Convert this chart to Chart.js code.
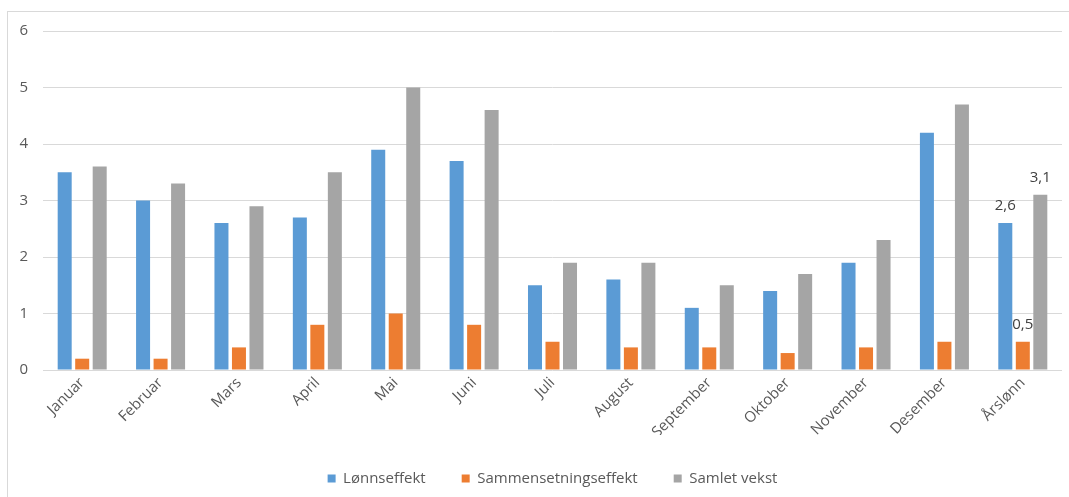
<!DOCTYPE html>
<html>
<head>
<meta charset="utf-8">
<script src="https://cdn.jsdelivr.net/npm/chart.js@4"></script>
<style>
  html, body { margin: 0; padding: 0; background: #fff; overflow: hidden; }
  #frame {
    position: absolute; left: 7px; top: 11px;
    width: 1100px; height: 600px;
    border: 1px solid #d9d9d9;
  }
  #wrap { position: absolute; left: 8px; top: 7px; width: 1095px; height: 490px; }
</style>
</head>
<body>
<div id="frame"></div>
<div id="wrap"><canvas id="chart"></canvas></div>
<script>
const months = ["Januar", "Februar", "Mars", "April", "Mai", "Juni", "Juli",
  "August", "September", "Oktober", "November", "Desember", "Årslønn"];
const lonnseffekt = [3.5, 3.0, 2.6, 2.7, 3.9, 3.7, 1.5, 1.6, 1.1, 1.4, 1.9, 4.2, 2.6];
const sammensetning = [0.2, 0.2, 0.4, 0.8, 1.0, 0.8, 0.5, 0.4, 0.4, 0.3, 0.4, 0.5, 0.5];
const samletVekst = [3.6, 3.3, 2.9, 3.5, 5.0, 4.6, 1.9, 1.9, 1.5, 1.7, 2.3, 4.7, 3.1];
const yTicks = [0, 1, 2, 3, 4, 5, 6];

const textColor = "#595959";
const font = "'Open Sans', 'Noto Sans', sans-serif";

// value labels only on the yearly group (last category)
const yearLabels = {
  id: "yearLabels",
  afterDatasetsDraw(chart) {
    const ctx = chart.ctx;
    const last = months.length - 1;
    ctx.save();
    ctx.font = "15px " + font;
    ctx.fillStyle = "#404040";
    ctx.textAlign = "center";
    ctx.textBaseline = "bottom";
    chart.data.datasets.forEach((ds, i) => {
      const bar = chart.getDatasetMeta(i).data[last];
      const txt = ds.data[last].toFixed(1).replace(".", ",");
      ctx.fillText(txt, bar.x, bar.y - 10);
    });
    ctx.restore();
  }
};

new Chart(document.getElementById("chart"), {
  type: "bar",
  data: {
    labels: months,
    datasets: [
      { label: "Lønnseffekt", data: lonnseffekt, backgroundColor: "#5b9bd5" },
      { label: "Sammensetningseffekt", data: sammensetning, backgroundColor: "#ed7d31" },
      { label: "Samlet vekst", data: samletVekst, backgroundColor: "#a5a5a5" }
    ]
  },
  options: {
    responsive: true,
    maintainAspectRatio: false,
    animation: false,
    categoryPercentage: 0.67,
    barPercentage: 0.8,
    layout: { padding: { top: 10, right: 41, bottom: 1, left: 0 } },
    plugins: {
      tooltip: { enabled: false },
      legend: {
        position: "bottom",
        fullSize: false,
        labels: {
          boxWidth: 8,
          boxHeight: 8,
          padding: 36,
          color: textColor,
          font: { family: font, size: 15 }
        }
      }
    },
    scales: {
      x: {
        grid: { display: false, drawTicks: false },
        border: { display: false },
        ticks: {
          color: textColor,
          font: { family: font, size: 15 },
          maxRotation: 45,
          minRotation: 45,
          padding: 4
        },
        afterFit(scale) { scale.height = 65; }
      },
      y: {
        min: 0,
        max: 6,
        afterBuildTicks(scale) { scale.ticks = yTicks.map(v => ({ value: v })); },
        grid: { color: "#d9d9d9", drawTicks: false },
        border: { display: false },
        ticks: {
          color: textColor,
          font: { family: font, size: 15 },
          padding: 15
        },
        afterFit(scale) { scale.width = 35; }
      }
    }
  },
  plugins: [yearLabels]
});
</script>
</body>
</html>
